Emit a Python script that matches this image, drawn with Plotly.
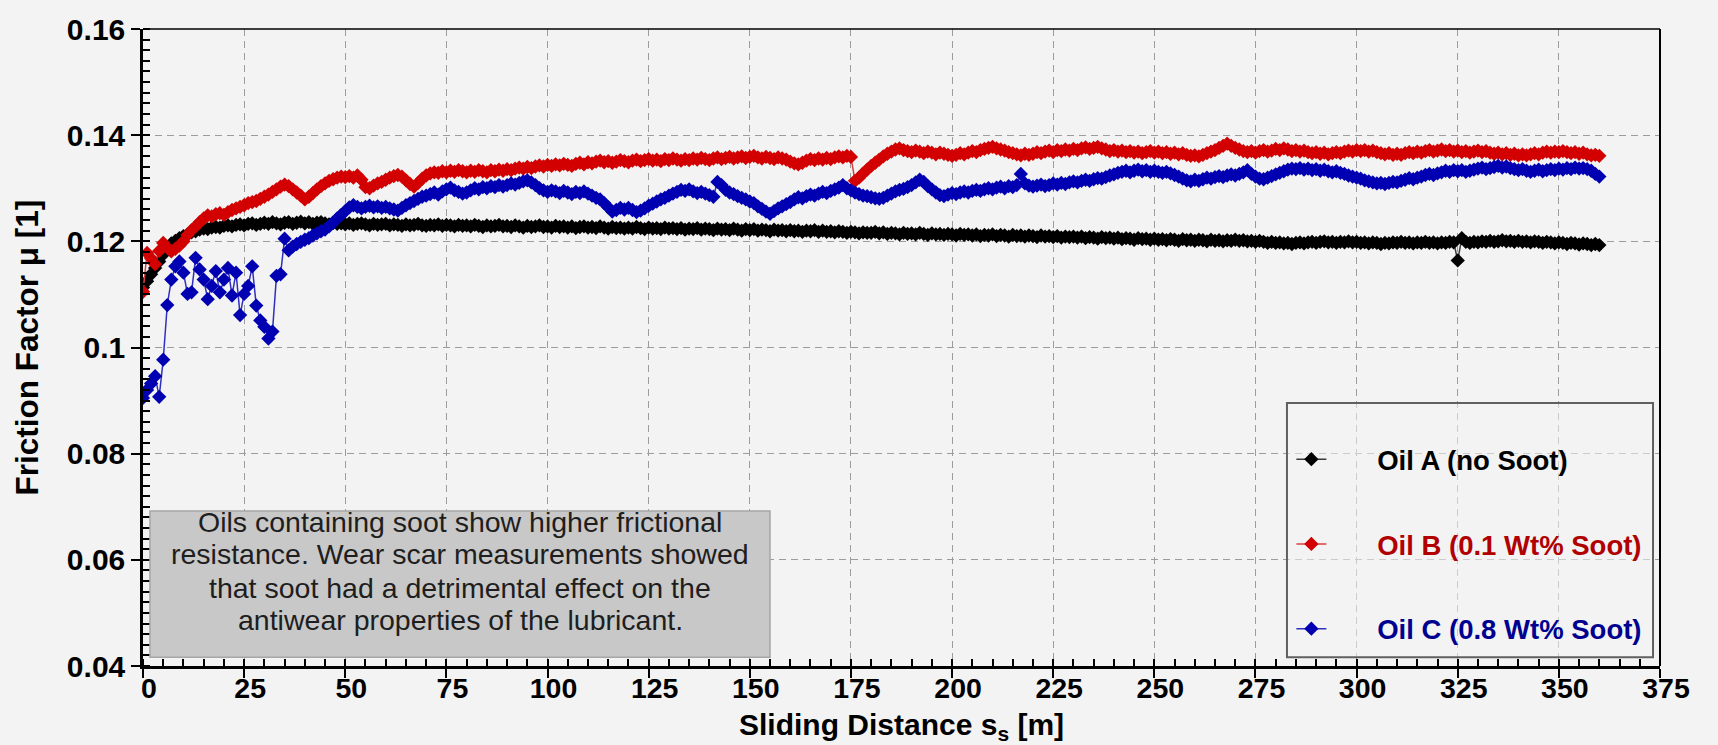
import plotly.graph_objects as go

# Friction factor readings, one sample per metre of sliding distance (0 ... 360 m)
oil_a_mu = [
    0.1113, 0.1125, 0.1138, 0.1150, 0.1162, 0.1175, 0.1186, 0.1196, 0.1201, 0.1206,
    0.1210, 0.1213, 0.1217, 0.1219, 0.1222, 0.1224, 0.1223, 0.1226, 0.1227, 0.1226,
    0.1229, 0.1230, 0.1228, 0.1231, 0.1232, 0.1230, 0.1233, 0.1234, 0.1231, 0.1233,
    0.1235, 0.1233, 0.1236, 0.1234, 0.1232, 0.1235, 0.1236, 0.1233, 0.1235, 0.1237,
    0.1234, 0.1236, 0.1233, 0.1235, 0.1236, 0.1234, 0.1232, 0.1235, 0.1233, 0.1234,
    0.1232, 0.1234, 0.1231, 0.1233, 0.1234, 0.1232, 0.1230, 0.1233, 0.1231, 0.1232,
    0.1233, 0.1230, 0.1232, 0.1231, 0.1229, 0.1232, 0.1230, 0.1231, 0.1233, 0.1230,
    0.1229, 0.1231, 0.1230, 0.1232, 0.1229, 0.1231, 0.1230, 0.1228, 0.1231, 0.1229,
    0.1230, 0.1228, 0.1231, 0.1229, 0.1227, 0.1230, 0.1228, 0.1229, 0.1231, 0.1228,
    0.1229, 0.1227, 0.1230, 0.1228, 0.1226, 0.1229, 0.1227, 0.1228, 0.1230, 0.1227,
    0.1228, 0.1226, 0.1229, 0.1227, 0.1228, 0.1226, 0.1228, 0.1225, 0.1227, 0.1228,
    0.1226, 0.1227, 0.1225, 0.1228, 0.1226, 0.1224, 0.1227, 0.1225, 0.1226, 0.1224,
    0.1226, 0.1224, 0.1227, 0.1225, 0.1223, 0.1226, 0.1224, 0.1225, 0.1223, 0.1226,
    0.1224, 0.1225, 0.1223, 0.1225, 0.1222, 0.1224, 0.1223, 0.1225, 0.1222, 0.1224,
    0.1223, 0.1221, 0.1224, 0.1222, 0.1223, 0.1221, 0.1224, 0.1222, 0.1220, 0.1223,
    0.1221, 0.1223, 0.1220, 0.1222, 0.1221, 0.1219, 0.1222, 0.1220, 0.1221, 0.1219,
    0.1221, 0.1219, 0.1220, 0.1218, 0.1220, 0.1219, 0.1221, 0.1218, 0.1220, 0.1218,
    0.1219, 0.1217, 0.1219, 0.1218, 0.1216, 0.1218, 0.1217, 0.1215, 0.1217, 0.1216,
    0.1216, 0.1218, 0.1215, 0.1217, 0.1214, 0.1216, 0.1215, 0.1213, 0.1216, 0.1214,
    0.1215, 0.1213, 0.1216, 0.1214, 0.1212, 0.1215, 0.1213, 0.1214, 0.1212, 0.1214,
    0.1213, 0.1211, 0.1214, 0.1212, 0.1213, 0.1211, 0.1213, 0.1210, 0.1212, 0.1211,
    0.1213, 0.1210, 0.1212, 0.1211, 0.1209, 0.1212, 0.1210, 0.1211, 0.1209, 0.1211,
    0.1210, 0.1208, 0.1211, 0.1209, 0.1210, 0.1208, 0.1210, 0.1207, 0.1209, 0.1208,
    0.1209, 0.1207, 0.1209, 0.1206, 0.1208, 0.1207, 0.1205, 0.1208, 0.1206, 0.1207,
    0.1205, 0.1207, 0.1204, 0.1206, 0.1205, 0.1203, 0.1206, 0.1204, 0.1205, 0.1203,
    0.1205, 0.1203, 0.1204, 0.1202, 0.1204, 0.1203, 0.1201, 0.1204, 0.1202, 0.1203,
    0.1201, 0.1203, 0.1202, 0.1200, 0.1203, 0.1201, 0.1202, 0.1200, 0.1202, 0.1201,
    0.1203, 0.1201, 0.1202, 0.1200, 0.1201, 0.1199, 0.1201, 0.1199, 0.1197, 0.1199,
    0.1197, 0.1198, 0.1196, 0.1197, 0.1195, 0.1197, 0.1198, 0.1196, 0.1198, 0.1199,
    0.1197, 0.1199, 0.1200, 0.1198, 0.1199, 0.1197, 0.1199, 0.1198, 0.1200, 0.1198,
    0.1199, 0.1197, 0.1198, 0.1196, 0.1198, 0.1197, 0.1195, 0.1197, 0.1196, 0.1198,
    0.1197, 0.1199, 0.1197, 0.1198, 0.1196, 0.1198, 0.1197, 0.1199, 0.1197, 0.1198,
    0.1196, 0.1198, 0.1197, 0.1199, 0.1198, 0.1164, 0.1206, 0.1199, 0.1197, 0.1199,
    0.1198, 0.1200, 0.1199, 0.1201, 0.1199, 0.1200, 0.1202, 0.1200, 0.1201, 0.1199,
    0.1201, 0.1199, 0.1200, 0.1198, 0.1200, 0.1199, 0.1197, 0.1199, 0.1198, 0.1196,
    0.1198, 0.1197, 0.1195, 0.1197, 0.1196, 0.1194, 0.1196, 0.1195, 0.1193, 0.1195,
    0.1193,
]

oil_b_mu = [
    0.1105, 0.1178, 0.1168, 0.1157, 0.1182, 0.1197, 0.1188, 0.1181, 0.1186, 0.1192,
    0.1200, 0.1212, 0.1221, 0.1228, 0.1236, 0.1243, 0.1249, 0.1247, 0.1251, 0.1253,
    0.1250, 0.1255, 0.1259, 0.1262, 0.1265, 0.1268, 0.1272, 0.1274, 0.1276, 0.1280,
    0.1284, 0.1288, 0.1293, 0.1298, 0.1303, 0.1307, 0.1304, 0.1298, 0.1292, 0.1286,
    0.1279, 0.1284, 0.1291, 0.1298, 0.1304, 0.1309, 0.1314, 0.1317, 0.1320, 0.1322,
    0.1321, 0.1323, 0.1320, 0.1324, 0.1316, 0.1302, 0.1300, 0.1305, 0.1309, 0.1312,
    0.1316, 0.1320, 0.1323, 0.1325, 0.1322, 0.1315, 0.1308, 0.1303, 0.1310, 0.1318,
    0.1324, 0.1328, 0.1330, 0.1329, 0.1332, 0.1330, 0.1333, 0.1331, 0.1334, 0.1332,
    0.1330, 0.1333, 0.1331, 0.1334, 0.1332, 0.1330, 0.1334, 0.1332, 0.1335, 0.1333,
    0.1336, 0.1334, 0.1337, 0.1339, 0.1337, 0.1340, 0.1338, 0.1341, 0.1343, 0.1341,
    0.1344, 0.1342, 0.1345, 0.1343, 0.1346, 0.1344, 0.1342, 0.1346, 0.1348, 0.1345,
    0.1349, 0.1347, 0.1350, 0.1352, 0.1349, 0.1351, 0.1348, 0.1350, 0.1353, 0.1351,
    0.1349, 0.1352, 0.1354, 0.1351, 0.1353, 0.1355, 0.1352, 0.1354, 0.1351, 0.1355,
    0.1353, 0.1356, 0.1354, 0.1352, 0.1355, 0.1353, 0.1356, 0.1354, 0.1357, 0.1355,
    0.1353, 0.1356, 0.1358, 0.1355, 0.1357, 0.1359, 0.1356, 0.1358, 0.1360, 0.1357,
    0.1359, 0.1361, 0.1358, 0.1356, 0.1359, 0.1357, 0.1355, 0.1358, 0.1356, 0.1354,
    0.1350, 0.1347, 0.1345, 0.1348, 0.1352, 0.1355, 0.1353, 0.1356, 0.1354, 0.1357,
    0.1355, 0.1358, 0.1360, 0.1358, 0.1361, 0.1359, 0.1314, 0.1320, 0.1328, 0.1335,
    0.1342, 0.1348, 0.1354, 0.1360, 0.1365, 0.1369, 0.1373, 0.1375, 0.1372, 0.1370,
    0.1368, 0.1371, 0.1369, 0.1366, 0.1369, 0.1367, 0.1364, 0.1367, 0.1365, 0.1363,
    0.1361, 0.1363, 0.1366, 0.1364, 0.1367, 0.1370, 0.1368, 0.1372, 0.1374, 0.1376,
    0.1378, 0.1375, 0.1373, 0.1371, 0.1368, 0.1366, 0.1364, 0.1362, 0.1365, 0.1363,
    0.1365, 0.1368, 0.1366, 0.1369, 0.1371, 0.1368, 0.1372, 0.1370, 0.1373, 0.1371,
    0.1374, 0.1372, 0.1375, 0.1377, 0.1374, 0.1376, 0.1378, 0.1375, 0.1373, 0.1370,
    0.1372, 0.1369, 0.1371, 0.1368, 0.1370, 0.1367, 0.1369, 0.1366, 0.1368, 0.1370,
    0.1367, 0.1369, 0.1366, 0.1368, 0.1365, 0.1367, 0.1364, 0.1366, 0.1363, 0.1361,
    0.1362, 0.1360, 0.1363, 0.1366, 0.1369, 0.1372, 0.1376, 0.1380, 0.1384, 0.1380,
    0.1376, 0.1373, 0.1370, 0.1368, 0.1370, 0.1367, 0.1370, 0.1372, 0.1369, 0.1371,
    0.1374, 0.1372, 0.1375, 0.1373, 0.1370, 0.1372, 0.1369, 0.1371, 0.1368, 0.1366,
    0.1368, 0.1365, 0.1367, 0.1364, 0.1366, 0.1368, 0.1366, 0.1369, 0.1371, 0.1369,
    0.1372, 0.1370, 0.1372, 0.1369, 0.1371, 0.1368, 0.1366, 0.1364, 0.1366, 0.1363,
    0.1365, 0.1363, 0.1366, 0.1368, 0.1366, 0.1369, 0.1367, 0.1370, 0.1372, 0.1369,
    0.1371, 0.1373, 0.1370, 0.1372, 0.1369, 0.1371, 0.1368, 0.1370, 0.1367, 0.1369,
    0.1371, 0.1368, 0.1370, 0.1367, 0.1365, 0.1367, 0.1364, 0.1366, 0.1363, 0.1365,
    0.1362, 0.1364, 0.1362, 0.1364, 0.1366, 0.1364, 0.1367, 0.1369, 0.1367, 0.1369,
    0.1368, 0.1370, 0.1368, 0.1366, 0.1368, 0.1365, 0.1367, 0.1364, 0.1362, 0.1363,
    0.1361,
]

oil_c_mu = [
    0.0905, 0.0920, 0.0932, 0.0946, 0.0907, 0.0977, 0.1080, 0.1128, 0.1153, 0.1162,
    0.1141, 0.1101, 0.1104, 0.1169, 0.1147, 0.1128, 0.1091, 0.1116, 0.1144, 0.1104,
    0.1128, 0.1150, 0.1098, 0.1141, 0.1061, 0.1101, 0.1116, 0.1153, 0.1079, 0.1051,
    0.1039, 0.1017, 0.1030, 0.1135, 0.1138, 0.1205, 0.1183, 0.1190, 0.1195, 0.1199,
    0.1203, 0.1206, 0.1211, 0.1215, 0.1219, 0.1222, 0.1228, 0.1235, 0.1243, 0.1250,
    0.1257, 0.1264, 0.1268, 0.1265, 0.1262, 0.1265, 0.1267, 0.1264, 0.1266, 0.1263,
    0.1265, 0.1262, 0.1260, 0.1258, 0.1263, 0.1268, 0.1272, 0.1276, 0.1280, 0.1284,
    0.1286, 0.1289, 0.1292, 0.1288, 0.1294, 0.1298, 0.1301, 0.1296, 0.1293, 0.1290,
    0.1292, 0.1296, 0.1300, 0.1298, 0.1302, 0.1300, 0.1304, 0.1302, 0.1306, 0.1303,
    0.1306, 0.1309, 0.1307, 0.1310, 0.1313, 0.1315, 0.1311, 0.1306, 0.1300, 0.1296,
    0.1293, 0.1296, 0.1294, 0.1291, 0.1295, 0.1292, 0.1289, 0.1293, 0.1291, 0.1294,
    0.1290, 0.1286, 0.1282, 0.1279, 0.1272, 0.1264, 0.1256, 0.1259, 0.1263, 0.1260,
    0.1263, 0.1259, 0.1255, 0.1258, 0.1262, 0.1267, 0.1271, 0.1275, 0.1279, 0.1282,
    0.1286, 0.1290, 0.1293, 0.1297, 0.1295, 0.1298, 0.1294, 0.1291, 0.1293, 0.1290,
    0.1287, 0.1284, 0.1312, 0.1306, 0.1297, 0.1292, 0.1289, 0.1285, 0.1282, 0.1279,
    0.1275, 0.1272, 0.1266, 0.1261, 0.1256, 0.1252, 0.1257, 0.1262, 0.1266, 0.1270,
    0.1274, 0.1279, 0.1283, 0.1281, 0.1285, 0.1288, 0.1286, 0.1290, 0.1293, 0.1291,
    0.1295, 0.1298, 0.1301, 0.1306, 0.1300, 0.1296, 0.1292, 0.1289, 0.1286, 0.1285,
    0.1283, 0.1281, 0.1280, 0.1282, 0.1286, 0.1290, 0.1294, 0.1297, 0.1299, 0.1302,
    0.1306, 0.1311, 0.1316, 0.1312, 0.1304, 0.1298, 0.1292, 0.1287, 0.1285, 0.1288,
    0.1291, 0.1289, 0.1292, 0.1294, 0.1292, 0.1295, 0.1297, 0.1295, 0.1298, 0.1300,
    0.1298, 0.1301, 0.1303, 0.1300, 0.1304, 0.1302, 0.1306, 0.1327, 0.1309, 0.1305,
    0.1303, 0.1305, 0.1307, 0.1304, 0.1306, 0.1309, 0.1307, 0.1310, 0.1308, 0.1311,
    0.1313, 0.1311, 0.1314, 0.1316, 0.1314, 0.1317, 0.1319, 0.1318, 0.1321, 0.1324,
    0.1326, 0.1329, 0.1331, 0.1333, 0.1330, 0.1333, 0.1335, 0.1332, 0.1334, 0.1331,
    0.1333, 0.1331, 0.1329, 0.1331, 0.1328, 0.1325, 0.1322, 0.1318, 0.1315, 0.1313,
    0.1316, 0.1314, 0.1317, 0.1320, 0.1318, 0.1321, 0.1323, 0.1321, 0.1324, 0.1326,
    0.1324, 0.1327, 0.1330, 0.1334, 0.1327, 0.1322, 0.1318, 0.1317, 0.1320, 0.1323,
    0.1326, 0.1329, 0.1332, 0.1335, 0.1337, 0.1336, 0.1338, 0.1335, 0.1337, 0.1334,
    0.1336, 0.1333, 0.1335, 0.1332, 0.1330, 0.1332, 0.1329, 0.1327, 0.1324, 0.1322,
    0.1320, 0.1318, 0.1315, 0.1313, 0.1311, 0.1309, 0.1310, 0.1308, 0.1310, 0.1312,
    0.1311, 0.1314, 0.1316, 0.1319, 0.1317, 0.1320, 0.1322, 0.1325, 0.1327, 0.1325,
    0.1328, 0.1330, 0.1333, 0.1331, 0.1334, 0.1332, 0.1334, 0.1331, 0.1333, 0.1335,
    0.1337, 0.1339, 0.1336, 0.1338, 0.1340, 0.1342, 0.1339, 0.1341, 0.1338, 0.1336,
    0.1334, 0.1336, 0.1333, 0.1331, 0.1333, 0.1335, 0.1332, 0.1334, 0.1336, 0.1334,
    0.1337, 0.1335, 0.1338, 0.1336, 0.1339, 0.1337, 0.1338, 0.1336, 0.1333, 0.1327,
    0.1322,
]

series_names = ["Oil A (no Soot)", "Oil B (0.1 Wt% Soot)", "Oil C (0.8 Wt% Soot)"]
marker_colors = ["#000000", "#d20000", "#0000b2"]
line_colors = ["#3a3a3a", "#d84040", "#3030c0"]
label_colors = ["#000000", "#b00000", "#000090"]

x_ticks = [0, 25, 50, 75, 100, 125, 150, 175, 200, 225, 250, 275, 300, 325, 350, 375]
y_ticks = [0.04, 0.06, 0.08, 0.10, 0.12, 0.14, 0.16]
y_tick_text = ["0.04", "0.06", "0.08", "0.1", "0.12", "0.14", "0.16"]

note_lines = [
    "Oils containing soot show higher frictional",
    "resistance. Wear scar measurements showed",
    "that soot had a detrimental effect on the",
    "antiwear properties of the lubricant.",
]
# vertical centres of the note lines, in paper fractions
note_line_y = [0.2263, 0.1755, 0.1231, 0.0723]

FONT = "Liberation Sans, Arial, sans-serif"
BG = "#f3f3f3"
NBSP = "\u00a0"

fig = go.Figure()
for i, mu in enumerate([oil_a_mu, oil_b_mu, oil_c_mu]):
    distance = list(range(len(mu)))
    fig.add_trace(go.Scatter(
        x=distance, y=mu, mode="lines+markers",
        name=f"<span style='color:{label_colors[i]}'>{NBSP * 6}{series_names[i]}</span>",
        legendgroup=f"g{i}",
        line=dict(color=line_colors[i], width=1.5),
        marker=dict(symbol="diamond", size=11, color=marker_colors[i], line=dict(width=0)),
    ))

common_axis = dict(
    showline=True, linecolor="#000000", linewidth=2.5, mirror=False,
    ticks="outside", ticklen=9, tickwidth=2, tickcolor="#000000",
    showgrid=True, gridcolor="#9c9c9c", gridwidth=1, griddash="7px,5px",
    zeroline=False,
)
fig.update_xaxes(range=[0, 375], tickvals=x_ticks, ticklabelstandoff=-14, ticklabelshift=6,
                 tickfont=dict(family=FONT, size=28.5, color="#000000", weight="bold"),
                 minor=dict(ticks="inside", dtick=5, ticklen=7, tickwidth=1.5,
                            tickcolor="#000000", showgrid=False),
                 **common_axis)
fig.update_yaxes(range=[0.04, 0.16], tickvals=y_ticks, ticktext=y_tick_text,
                 tickfont=dict(family=FONT, size=30, color="#000000", weight="bold"),
                 minor=dict(ticks="inside", dtick=0.002, ticklen=7, tickwidth=1.5,
                            tickcolor="#000000", showgrid=False),
                 **common_axis)

annotations = [
    dict(text=line, xref="paper", yref="paper", x=0.209, y=yc,
         xanchor="center", yanchor="middle", showarrow=False,
         font=dict(family=FONT, size=28.5, color="#1e1e1e"))
    for line, yc in zip(note_lines, note_line_y)
]
annotations += [
    dict(text="Sliding Distance s<sub>s</sub> [m]", xref="paper", yref="paper",
         x=0.5, y=-0.0948, xanchor="center", yanchor="middle", showarrow=False,
         font=dict(family=FONT, size=30, color="#000000", weight="bold")),
    dict(text="Friction Factor μ [1]", xref="paper", yref="paper",
         x=-0.0765, y=0.5, xanchor="center", yanchor="middle", showarrow=False,
         textangle=-90,
         font=dict(family=FONT, size=31.5, color="#000000", weight="bold")),
]

fig.update_layout(
    width=1718, height=745,
    margin=dict(l=143, r=58, t=17, b=79),
    paper_bgcolor=BG, plot_bgcolor=BG,
    font=dict(family=FONT, color="#000000"),
    showlegend=True,
    legend=dict(
        x=0.757, xanchor="left", y=0.363, yanchor="top",
        bgcolor="rgba(0,0,0,0)", borderwidth=0,
        font=dict(family=FONT, size=27.5, weight="bold"),
        tracegroupgap=46,
    ),
    shapes=[
        # top and right frame lines
        dict(type="line", xref="paper", yref="paper", x0=0, x1=1, y0=1, y1=1,
             line=dict(color="#000000", width=1.5)),
        dict(type="line", xref="paper", yref="paper", x0=1, x1=1, y0=0, y1=1,
             line=dict(color="#000000", width=2)),
        # legend frame
        dict(type="rect", xref="paper", yref="paper", x0=0.7541, x1=0.9954,
             y0=0.0139, y1=0.4129, layer="above",
             line=dict(color="#606060", width=2), fillcolor="rgba(243,243,243,0.55)"),
        # note box
        dict(type="rect", xref="paper", yref="paper", x0=0.0046, x1=0.4133,
             y0=0.0139, y1=0.2435, layer="above",
             line=dict(color="#a6a6a6", width=1.5), fillcolor="#c8c8c8"),
    ],
    annotations=annotations,
)

fig.write_html("out.html")
